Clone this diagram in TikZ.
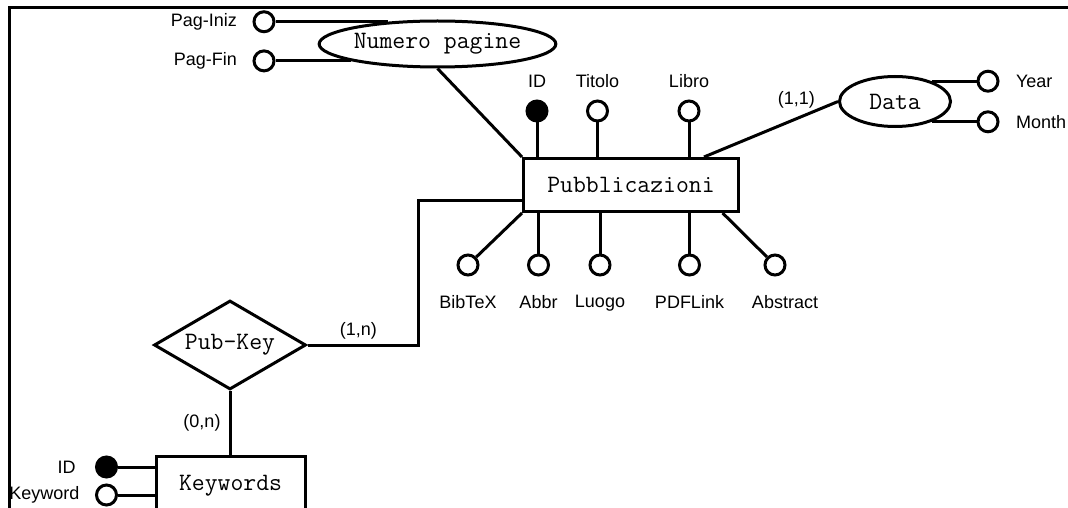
\documentclass[tikz,border=0pt]{standalone}
\usepackage{fontspec}
\setmainfont{Liberation Sans}
\usetikzlibrary{shapes,positioning}

\begin{document}
\begin{tikzpicture}[x=1pt, y=-1pt, line width=3pt]
    % Define styles
    \tikzstyle{entity} = [rectangle, draw, font=\ttfamily\fontsize{25}{27}\selectfont, inner sep=0pt]
    \tikzstyle{relation} = [diamond, draw, aspect=1.7, minimum width=152pt, minimum height=89pt, font=\ttfamily\fontsize{25}{27}\selectfont, inner sep=0pt]
    \tikzstyle{compound} = [ellipse, draw, font=\ttfamily\fontsize{25}{27}\selectfont, inner sep=0pt]
    \tikzstyle{attrib} = [circle, draw, fill=white, minimum size=20pt, inner sep=0pt]
    \tikzstyle{keyattrib} = [attrib, fill=black]
    \tikzstyle{lbl} = [font=\fontsize{18}{20}\selectfont, inner sep=1pt]
    \tikzstyle{every label} = [lbl]
    \useasboundingbox (0,0) rectangle (1068,508);

    % Frame
    \draw[line width=2.5pt] (1068,7.5) -- (9.5,7.5) -- (9.5,508);

    % Entities and relation
    \node [entity, minimum width=215pt, minimum height=53pt] (pub) at (631,185) {Pubblicazioni};
    \node [compound, minimum width=232pt, minimum height=46pt] (numpag) at (437.5,44) {Numero pagine};
    \node [compound, minimum width=111pt, minimum height=50pt] (data) at (895,101.5) {Data};
    \node [relation] (pubkey) at (230,345) {Pub-Key};
    \node [entity, minimum width=149pt, minimum height=58pt] (kw) at (230.5,485.3) {Keywords};

    \coordinate (lcol) at (264,0);
    \coordinate (rcol) at (988,0);
    \coordinate (bend) at (418,0);

    % Attributes
    \node [attrib, label={[label distance=13pt]left:Pag-Iniz}] (piniz) at (numpag.156 -| lcol) {};
    \node [attrib, label={[label distance=13pt]left:Pag-Fin}] (pfin) at (numpag.191 -| lcol) {};
    \node [attrib, label={[label distance=14pt]right:Year}] (year) at (data.29 -| rcol) {};
    \node [attrib, label={[label distance=14pt]right:Month}] (month) at (data.-29 -| rcol) {};

    \node [keyattrib, label={[label distance=9pt]above:ID}] (pid) at (537,111) {};
    \node [attrib, label={[label distance=9pt]above:Titolo}] (ptit) at (597.5,111) {};
    \node [attrib, label={[label distance=9pt]above:Libro}] (plib) at (689,111) {};

    \node [attrib, label={[label distance=16pt]below:BibTeX}] (pbib) at (468,265) {};
    \node [attrib, label={[label distance=16pt]below:Abbr}] (pabbr) at (538.5,265) {};
    \node [attrib, label={[label distance=16pt]below:Luogo}] (pluogo) at (600,265) {};
    \node [attrib, label={[label distance=16pt]below:PDFLink}] (ppdf) at (689.5,265) {};
    \node [attrib, label={[label distance=16pt, xshift=10pt]below:Abstract}] (pabs) at (775,265) {};

    \node [keyattrib, label={[label distance=17pt]left:ID}] (kid) at (106.5,467) {};
    \node [attrib, label={[label distance=13pt]left:Keyword}] (kkey) at (106.5,495) {};

    % Lines
    \draw (piniz) -- (numpag.156);
    \draw (pfin) -- (numpag.191);
    \draw (numpag.south) -- (pub.north west);
    \draw (data.29) -- (year);
    \draw (data.-29) -- (month);
    \draw (pub.21) -- node[lbl, pos=0.69, above=8pt] (card1) {(1,1)} (data.west);
    \foreach \a in {pid,ptit,plib}
        \draw (\a) -- (\a |- pub.north);
    \foreach \a in {pabbr,pluogo,ppdf}
        \draw (\a) -- (\a |- pub.south);
    \draw (pub.south west) -- (pbib);
    \draw (pub.-17) -- (pabs);
    \draw (pub.188) -| (bend |- pubkey) -- node[lbl, pos=0.54, above=3pt] (card2) {(1,n)} (pubkey);
    \draw (pubkey) -- node[lbl, left=7pt] (card3) {(0,n)} (pubkey |- kw.north);
    \foreach \a in {kid,kkey}
        \draw (\a) -- (\a -| kw.west);
\end{tikzpicture}
\end{document}
